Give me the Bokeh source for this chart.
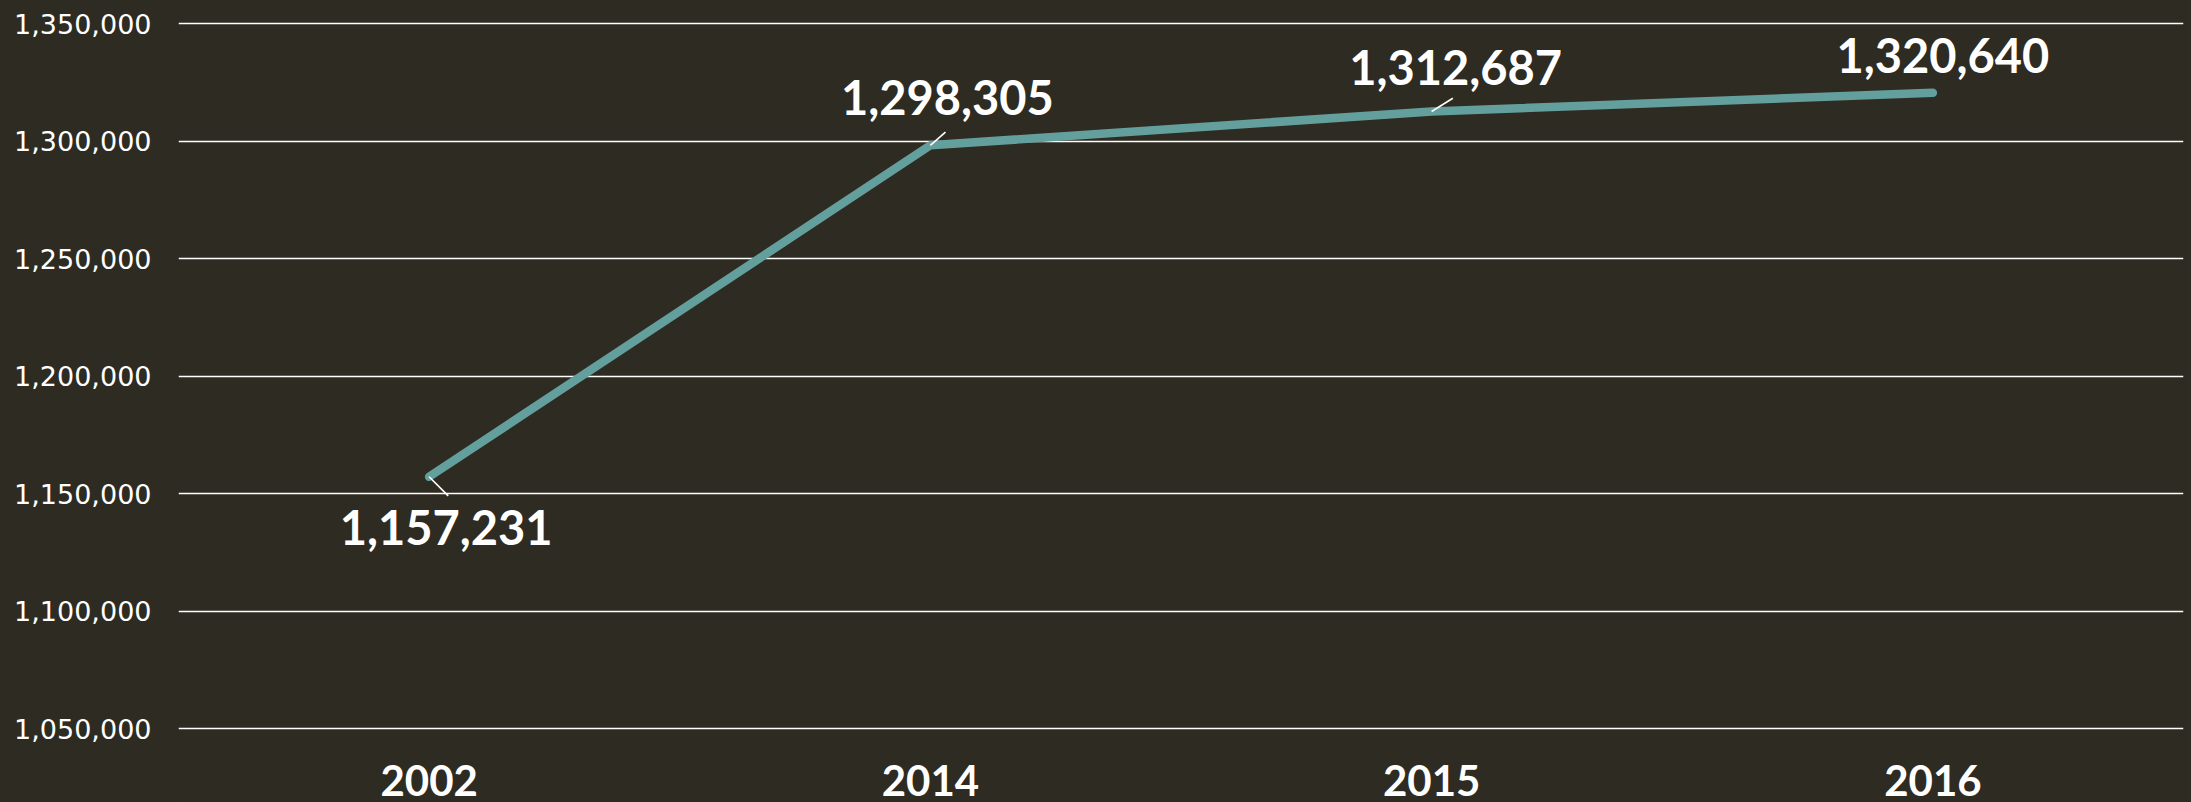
import numpy as np
from bokeh.plotting import figure
from bokeh.models import FactorRange, Range1d, FixedTicker, NumeralTickFormatter, ColumnDataSource
from bokeh.core.properties import value
from bokeh.embed import file_html
from bokeh.resources import INLINE

# ---- data ----
years = ["2002", "2014", "2015", "2016"]
population = [1157231, 1298305, 1312687, 1320640]
y_ticks = [1050000, 1100000, 1150000, 1200000, 1250000, 1300000, 1350000]
point_labels = [f"{v:,}" for v in population]

# ---- style ----
BG = "#2E2B22"
LINE = "#63A09D"
FONT = "Lato"
label_dx = [17, 17, 24, 10]
label_dy = [51, -48, -44, -37]
leader_angle_deg = [-45, 41, 32]
leader_len = [27, 20, 25]

Y_START, Y_END = 1018638, 1359915

p = figure(width=2191, height=802, x_range=FactorRange(*years, range_padding=0),
           y_range=Range1d(Y_START, Y_END), output_backend="svg", toolbar_location=None,
           min_border_left=178, min_border_right=8, min_border_top=0, min_border_bottom=0)
p.styles = {"background-color": BG}
p.background_fill_color = BG
p.border_fill_color = BG
p.outline_line_color = None
p.xaxis.visible = False
p.xgrid.visible = False

p.yaxis.ticker = FixedTicker(ticks=y_ticks)
p.yaxis.formatter = NumeralTickFormatter(format="0,0")
p.yaxis.axis_line_color = None
p.yaxis.major_tick_line_color = None
p.yaxis.minor_tick_line_color = None
p.yaxis.major_label_text_color = "#FFFFFF"
p.yaxis.major_label_text_font = "DejaVu Sans"
p.yaxis.major_label_text_font_size = "27px"
p.yaxis.major_label_standoff = 21

p.ygrid.ticker = FixedTicker(ticks=y_ticks)
p.ygrid.grid_line_color = "#FFFFFF"
p.ygrid.grid_line_width = 1.6

src = ColumnDataSource(dict(x=years, y=population, text=point_labels,
                            dx=label_dx, dy=label_dy))

p.line(x="x", y="y", source=src, line_color=LINE, line_width=8.5, line_cap="round", line_join="round")

# leader lines
lsrc = ColumnDataSource(dict(x=years[:3], y=population[:3],
                             ang=list(np.radians(leader_angle_deg)), ln=leader_len))
p.ray(x="x", y="y", length="ln", length_units="screen", angle="ang", source=lsrc,
      line_color="#FFFFFF", line_width=1.6)

# data labels
p.text(x="x", y="y", text="text", source=src, x_offset="dx", y_offset="dy",
       text_align="center", text_baseline="middle", text_color="#FFFFFF",
       text_font=value(FONT), text_font_style="bold", text_font_size="47px")

# category labels along the bottom
csrc = ColumnDataSource(dict(x=years, y=[Y_START] * len(years), text=years))
p.text(x="x", y="y", text="text", source=csrc, y_offset=-22,
       text_align="center", text_baseline="alphabetic", text_color="#FFFFFF",
       text_font=value(FONT), text_font_style="bold", text_font_size="42px")

open("out.html", "w").write(file_html(p, INLINE))
